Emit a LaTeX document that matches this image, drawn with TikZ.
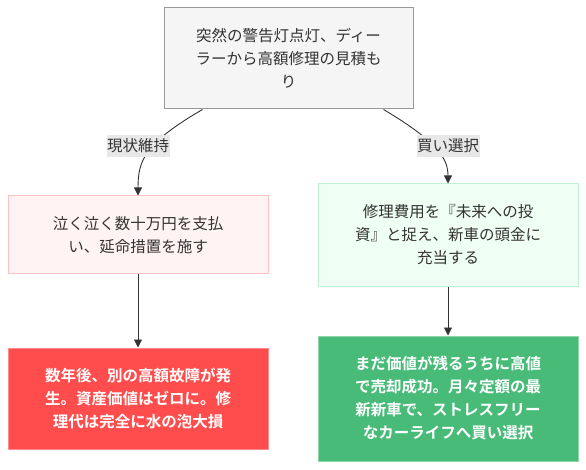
\documentclass[tikz,border=0pt]{standalone}
\usepackage{fontspec}
\setmainfont{Noto Sans CJK JP}[BoldFont={Noto Sans CJK JP Bold}]
\usetikzlibrary{arrows.meta}
\usetikzlibrary{positioning}
\definecolor{txtgray}{HTML}{333333}
\definecolor{startfill}{HTML}{F5F5F5}
\definecolor{startline}{HTML}{999999}
\definecolor{keepfill}{HTML}{FFF3F3}
\definecolor{keepline}{HTML}{FFC2C2}
\definecolor{buyfill}{HTML}{F0FFF4}
\definecolor{buyline}{HTML}{C2F0D2}
\definecolor{lossfill}{HTML}{FF4D4D}
\definecolor{lossline}{HTML}{FF8A8A}
\definecolor{winfill}{HTML}{48BB78}
\definecolor{winline}{HTML}{8ED6A8}
\definecolor{lblfill}{HTML}{E8E8E8}
\tikzset{box/.style={draw, line width=1pt, minimum width=260pt, align=center,
    font=\fontsize{15.5}{23}\selectfont, text=txtgray}}
\tikzset{startbox/.style={box, fill=startfill, draw=startline, minimum width=249pt}}
\tikzset{keepbox/.style={box, fill=keepfill, draw=keepline}}
\tikzset{buybox/.style={box, fill=buyfill, draw=buyline}}
\tikzset{lossbox/.style={box, fill=lossfill, draw=lossline, text=white, font=\fontsize{15.5}{23}\selectfont\bfseries}}
\tikzset{winbox/.style={box, fill=winfill, draw=winline, text=white, font=\fontsize{15.5}{23}\selectfont\bfseries}}
\tikzset{elabel/.style={fill=lblfill, inner xsep=0.5pt, inner ysep=4pt, text=txtgray, font=\fontsize{15.5}{16}\selectfont}}
\tikzset{flow/.style={draw=txtgray, line width=0.9pt, -{Triangle[length=8pt,width=8pt]}}}

\begin{document}
\begin{tikzpicture}[x=1pt, y=-1pt]
   \useasboundingbox (0,0) rectangle (586,470);

   \node[startbox, minimum height=101pt] (start) at (288.5,58.5)
      {突然の警告灯点灯、ディー\\ラーから高額修理の見積も\\り};
   \node[keepbox, minimum height=78pt] (keep) at (138,235)
      {泣く泣く数十万円を支払\\い、延命措置を施す};
   \node[buybox, minimum height=102pt] (buy) at (448,235)
      {修理費用を『未来への投\\資』と捉え、新車の頭金に\\充当する};
   \node[lossbox, minimum height=101pt] (loss) at (138,398.5)
      {数年後、別の高額故障が発\\生。資産価値はゼロに。修\\理代は完全に水の泡大損};
   \node[winbox, minimum height=125pt] (win) at (448,398.5)
      {まだ価値が残るうちに高値\\で売却成功。月々定額の最\\新新車で、ストレスフリー\\なカーライフへ買い選択};

   % branches
   \draw[flow] ([xshift=39pt]start.south west) .. controls (145,143) and (138,160) .. (keep.north);
   \draw[flow] ([xshift=-30pt]start.south east) .. controls (440,143) and (448,160) .. (buy.north);
   \node[elabel] (keeplbl) at (138,146) {現状維持};
   \node[elabel] (buylbl) at (448,146) {買い選択};

   % results
   \draw[flow] (keep) -- (loss);
   \draw[flow] (buy) -- (win);
\end{tikzpicture}
\end{document}
